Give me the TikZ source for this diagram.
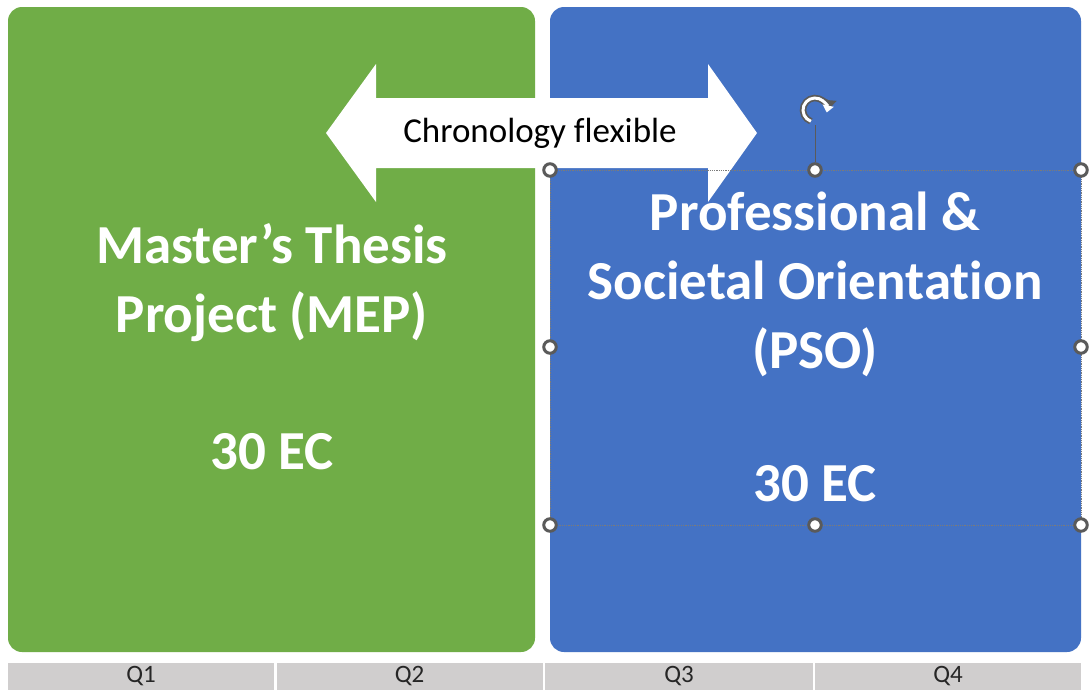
\documentclass[tikz,border=0pt]{standalone}
\usepackage{fontspec}
\setmainfont[Ligatures={NoCommon}]{Carlito}
\usetikzlibrary{arrows.meta}
\definecolor{mepgreen}{HTML}{70AD47}
\definecolor{psoblue}{HTML}{4472C4}
\definecolor{qgray}{HTML}{D0CECE}
\definecolor{hgray}{HTML}{5A5A5A}
\tikzset{
  panel/.style={rounded corners=14pt, draw=none},
  bigtext/.style={text=white, align=center, inner sep=0pt, font=\fontsize{55}{69}\selectfont\bfseries},
  qcell/.style={fill=qgray, draw=none, minimum height=27pt, inner sep=0pt, font=\fontsize{25}{28}\selectfont, text=black!85},
  handle/.style={circle, fill=white, draw=hgray, line width=3pt, minimum size=12.5pt, inner sep=0pt},
  selbox/.style={draw=hgray!80, densely dotted, line width=0.8pt},
}
\begin{document}
\begin{tikzpicture}[x=1pt, y=-1pt]
\useasboundingbox[fill=white] (0,0) rectangle (1089,694);
% panels
\fill[mepgreen, panel] (8,7) rectangle (535,652);
\fill[psoblue, panel] (550,7) rectangle (1081,652);
% quarter bar
\node[qcell, minimum width=266pt] (q1) at (141,676.5) {Q1};
\node[qcell, minimum width=266pt] (q2) at (409.5,676.5) {Q2};
\node[qcell, minimum width=268pt] (q3) at (679,676.5) {Q3};
\node[qcell, minimum width=266pt] (q4) at (948,676.5) {Q4};
% double arrow
\fill[white] (326,133) -- (376,64) -- (376,98) -- (708,98) -- (708,64) -- (757,133)
  -- (708,202) -- (708,168) -- (376,168) -- (376,202) -- cycle;
\node[font=\fontsize{35}{40}\selectfont, text=black, inner sep=0pt] (chrono) at (540,133) {Chronology flexible};
% texts
\node[bigtext] (mep) at (272,283) {Master’s Thesis\\Project (MEP)};
\node[bigtext] (mepec) at (272,452) {30 EC};
\node[bigtext] (pso) at (815,284) {Professional \&\\Societal Orientation\\(PSO)};
\node[bigtext] (psoec) at (815,484) {30 EC};
% selection frame
\draw[selbox] (550,170) rectangle (1081,525);
\coordinate (rot) at (815,110);
\node[handle] (h1) at (550,170) {};
\node[handle] (h2) at (815,170) {};
\node[handle] (h3) at (1081,170) {};
\node[handle] (h4) at (550,347) {};
\node[handle] (h5) at (1081,347) {};
\node[handle] (h6) at (550,525) {};
\node[handle] (h7) at (815,525) {};
\node[handle] (h8) at (1081,525) {};
\draw[hgray, line width=1pt] (815,125) -- (h2);
% rotate icon
\draw[hgray, line width=6.5pt, -{Triangle[length=11pt, width=17pt]}] ([shift={(250:12pt)}]rot) arc[start angle=250, end angle=-5, radius=12pt];
\draw[white, line width=3pt, -{Triangle[length=7pt, width=11pt]}] ([shift={(250:12pt)}]rot) arc[start angle=250, end angle=-12, radius=12pt];
\end{tikzpicture}
\end{document}
